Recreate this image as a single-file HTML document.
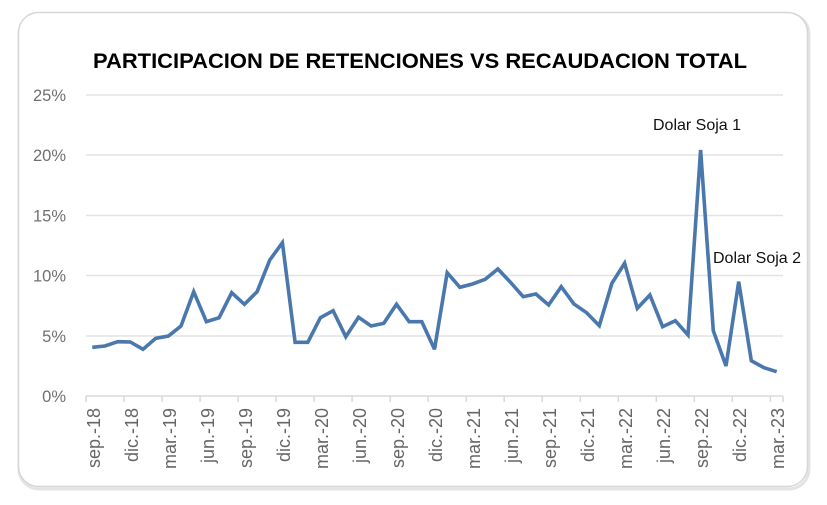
<!DOCTYPE html>
<html><head><meta charset="utf-8"><style>
html,body{margin:0;padding:0;background:#fff;}
svg{display:block;}
</style></head><body>
<svg width="827" height="505" viewBox="0 0 827 505" xmlns="http://www.w3.org/2000/svg">
<rect x="0" y="0" width="827" height="505" fill="#ffffff"/>
<!-- card shadow + card -->
<rect x="19" y="14" width="790" height="475" rx="20" fill="none" stroke="#e4e4e4" stroke-width="3"/>
<rect x="18.5" y="12.5" width="789" height="474" rx="20" fill="#ffffff" stroke="#d6d6d6" stroke-width="1.5"/>
<!-- title -->
<text x="93" y="68" font-family="Liberation Sans, sans-serif" font-weight="bold" font-size="21" fill="#000" textLength="654" lengthAdjust="spacingAndGlyphs">PARTICIPACION DE RETENCIONES VS RECAUDACION TOTAL</text>
<!-- gridlines -->
<g stroke="#e3e3e3" stroke-width="1.5">
<line x1="86" y1="95" x2="783" y2="95"/>
<line x1="86" y1="155" x2="783" y2="155"/>
<line x1="86" y1="215.5" x2="783" y2="215.5"/>
<line x1="86" y1="275.5" x2="783" y2="275.5"/>
<line x1="86" y1="336" x2="783" y2="336"/>
</g>
<!-- axis -->
<g stroke="#d9d9d9" stroke-width="1.5">
<line x1="86" y1="396" x2="783" y2="396"/>
<line x1="86" y1="396" x2="86" y2="402"/>
<line x1="124" y1="396" x2="124" y2="402"/>
<line x1="162.1" y1="396" x2="162.1" y2="402"/>
<line x1="200.1" y1="396" x2="200.1" y2="402"/>
<line x1="238.1" y1="396" x2="238.1" y2="402"/>
<line x1="276.1" y1="396" x2="276.1" y2="402"/>
<line x1="314.1" y1="396" x2="314.1" y2="402"/>
<line x1="352.1" y1="396" x2="352.1" y2="402"/>
<line x1="390.2" y1="396" x2="390.2" y2="402"/>
<line x1="428.2" y1="396" x2="428.2" y2="402"/>
<line x1="466.2" y1="396" x2="466.2" y2="402"/>
<line x1="504.2" y1="396" x2="504.2" y2="402"/>
<line x1="542.2" y1="396" x2="542.2" y2="402"/>
<line x1="580.3" y1="396" x2="580.3" y2="402"/>
<line x1="618.3" y1="396" x2="618.3" y2="402"/>
<line x1="656.3" y1="396" x2="656.3" y2="402"/>
<line x1="694.3" y1="396" x2="694.3" y2="402"/>
<line x1="732.3" y1="396" x2="732.3" y2="402"/>
<line x1="770.4" y1="396" x2="770.4" y2="402"/>
<line x1="783" y1="396" x2="783" y2="402"/>
</g>
<!-- y labels -->
<g font-family="Liberation Sans, sans-serif" font-size="16.5" fill="#707070" text-anchor="end">
<text x="66" y="101">25%</text>
<text x="66" y="161">20%</text>
<text x="66" y="221.5">15%</text>
<text x="66" y="281.5">10%</text>
<text x="66" y="342">5%</text>
<text x="66" y="402">0%</text>
</g>
<!-- x labels -->
<g font-family="Liberation Sans, sans-serif" font-size="18" fill="#666666" text-anchor="end" dominant-baseline="central">
<text transform="translate(93.8,408) rotate(-90)">sep.-18</text>
<text transform="translate(131.8,408) rotate(-90)">dic.-18</text>
<text transform="translate(169.9,408) rotate(-90)">mar.-19</text>
<text transform="translate(207.9,408) rotate(-90)">jun.-19</text>
<text transform="translate(245.9,408) rotate(-90)">sep.-19</text>
<text transform="translate(283.9,408) rotate(-90)">dic.-19</text>
<text transform="translate(321.9,408) rotate(-90)">mar.-20</text>
<text transform="translate(360.0,408) rotate(-90)">jun.-20</text>
<text transform="translate(398.0,408) rotate(-90)">sep.-20</text>
<text transform="translate(436.0,408) rotate(-90)">dic.-20</text>
<text transform="translate(474.0,408) rotate(-90)">mar.-21</text>
<text transform="translate(512.0,408) rotate(-90)">jun.-21</text>
<text transform="translate(550.1,408) rotate(-90)">sep.-21</text>
<text transform="translate(588.1,408) rotate(-90)">dic.-21</text>
<text transform="translate(626.1,408) rotate(-90)">mar.-22</text>
<text transform="translate(664.1,408) rotate(-90)">jun.-22</text>
<text transform="translate(702.1,408) rotate(-90)">sep.-22</text>
<text transform="translate(740.2,408) rotate(-90)">dic.-22</text>
<text transform="translate(778.2,408) rotate(-90)">mar.-23</text>
</g>
<!-- series -->
<polyline fill="none" stroke="#4a78ad" stroke-width="3.6" stroke-linejoin="miter" stroke-miterlimit="3" points="
92.3,347.3 105.0,346 117.7,341.7 130.3,342 143.0,349.3 155.7,338.3 168.4,336 181.0,326 193.7,291.7 206.4,321.7
219.1,317.7 231.7,292.7 244.4,304.3 257.1,291.7 269.8,260 282.4,242.7 295.1,342.3 307.8,342.3 320.4,317.7 333.1,310.7
345.8,336.7 358.5,317.3 371.1,326 383.8,323.3 396.5,304.3 409.2,321.7 421.8,321.7 434.5,349.3 447.2,272.7 459.9,287.3
472.5,284 485.2,279.3 497.9,269 510.5,282.3 523.2,296.7 535.9,294 548.6,305 561.2,286.7 573.9,304 586.6,312.7
599.3,325.7 611.9,283.3 624.6,263.3 637.3,308.3 649.9,295 662.6,326.7 675.3,320.7 688.0,335 700.6,150 713.3,330.7
726.0,366 738.7,281.7 751.3,360.7 764.0,367.7 776.7,371.7"/>
<!-- annotations -->
<g font-family="Liberation Sans, sans-serif" font-size="16" fill="#111">
<text x="653" y="130">Dolar Soja 1</text>
<text x="713" y="263">Dolar Soja 2</text>
</g>
</svg>
</body></html>
